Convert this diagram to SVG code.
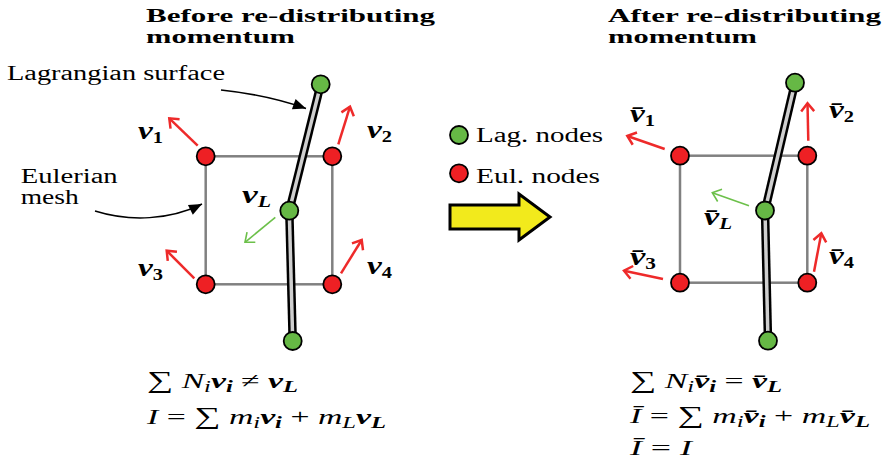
<svg xmlns="http://www.w3.org/2000/svg" width="888" height="469" viewBox="0 0 888 469">
<style>
.t{font-family:"Liberation Serif","DejaVu Serif",serif;fill:#000}
.title{font-weight:bold;font-size:19px}
.lbl{font-size:20px}
.vec{font-weight:bold;font-style:italic;font-size:26px}
.vs{font-size:16px}
.m{font-size:22px;font-style:italic}
.up{font-style:normal}
.sum{font-style:normal;font-size:24px}
.bold{font-weight:bold}
.sq{stroke:#808080;stroke-width:2.5;fill:none}
.lagO{stroke:#000;stroke-width:8.5;fill:none;stroke-linecap:butt}
.lagI{stroke:#cfcfcf;stroke-width:3.5;fill:none}
.red{stroke:#ee2a2a;stroke-width:2.5;fill:none;marker-end:url(#ahR)}
.grn{stroke:#6cc04a;stroke-width:1.6;fill:none;marker-end:url(#ahG)}
.lead{stroke:#000;stroke-width:1.5;fill:none;marker-end:url(#ahK)}
.en{fill:#ee2024;stroke:#000;stroke-width:1.8}
.ln{fill:#66b845;stroke:#000;stroke-width:1.8}
</style>
<defs>
<marker id="ahR" markerUnits="userSpaceOnUse" orient="auto" viewBox="-12 -10 14 20" refX="0" refY="0" markerWidth="14" markerHeight="20" overflow="visible">
<path d="M-8,-6.5 L0,0 L-8,6.5" fill="none" stroke="#ee2a2a" stroke-width="2.5" stroke-linejoin="miter"/>
</marker>
<marker id="ahG" markerUnits="userSpaceOnUse" orient="auto" viewBox="-12 -10 14 20" refX="0" refY="0" markerWidth="14" markerHeight="20" overflow="visible">
<path d="M-8,-6.5 L0,0 L-8,6.5" fill="none" stroke="#6cc04a" stroke-width="1.6"/>
</marker>
<marker id="ahK" markerUnits="userSpaceOnUse" orient="auto" viewBox="-14 -8 16 16" refX="0" refY="0" markerWidth="16" markerHeight="16" overflow="visible">
<path d="M-13,-5.5 L0,0 L-13,5.5 Z" fill="#000"/>
</marker>
</defs>

<!-- titles -->
<g id="title-before" class="t title">
<text x="146" y="21.5" textLength="289" lengthAdjust="spacingAndGlyphs">Before re-distributing</text>
<text x="146" y="43" textLength="149" lengthAdjust="spacingAndGlyphs">momentum</text>
</g>
<g id="title-after" class="t title">
<text x="608" y="21.5" textLength="273" lengthAdjust="spacingAndGlyphs">After re-distributing</text>
<text x="608" y="43" textLength="149" lengthAdjust="spacingAndGlyphs">momentum</text>
</g>

<!-- connectors -->
<g id="connectors">
<rect class="sq" x="205.7" y="156.3" width="126.6" height="128"/>
<rect class="sq" x="680" y="155.7" width="127.3" height="127"/>
<polyline class="lagO" points="320.7,84.3 289.3,210.7"/>
<polyline class="lagO" points="289.3,210.7 292.7,341"/>
<polyline class="lagI" points="320.7,84.3 289.3,210.7"/>
<polyline class="lagI" points="289.3,210.7 292.7,341"/>
<polyline class="lagO" points="795,82.7 765,210.5"/>
<polyline class="lagO" points="765,210.5 768,340.7"/>
<polyline class="lagI" points="795,82.7 765,210.5"/>
<polyline class="lagI" points="765,210.5 768,340.7"/>
<line class="red" x1="197.7" y1="145.7" x2="169.3" y2="118.3"/>
<line class="red" x1="338.3" y1="144.3" x2="350" y2="106.7"/>
<line class="red" x1="194.3" y1="278.3" x2="166.7" y2="250.7"/>
<line class="red" x1="341" y1="273.3" x2="361.7" y2="240"/>
<line class="grn" x1="275.3" y1="217.3" x2="245" y2="242.3"/>
<line class="red" x1="664.7" y1="149" x2="627.3" y2="136"/>
<line class="red" x1="808.3" y1="140.7" x2="807.5" y2="103.3"/>
<line class="red" x1="663" y1="279" x2="624" y2="270.7"/>
<line class="red" x1="814" y1="271.7" x2="821.3" y2="233.3"/>
<line class="grn" x1="749" y1="205.7" x2="712.3" y2="192.7"/>
<path class="lead" d="M221,90 Q268,95 306,108.5"/>
<path class="lead" d="M95,211 C130,222 170,220 202,204"/>
<polygon points="450,205 519,205 519,194 550,217 519,240 519,229 450,229" fill="#f2ea1c" stroke="#000" stroke-width="3" stroke-linejoin="miter"/>
</g>

<!-- nodes: left -->
<g id="L-eul-1"><circle class="en" cx="205.7" cy="156.3" r="9"/></g>
<g id="L-eul-2"><circle class="en" cx="332.3" cy="156.3" r="9"/></g>
<g id="L-eul-3"><circle class="en" cx="205.7" cy="284.3" r="9"/></g>
<g id="L-eul-4"><circle class="en" cx="332.3" cy="284.3" r="9"/></g>
<g id="L-lag-top"><circle class="ln" cx="320.7" cy="84.3" r="9"/></g>
<g id="L-lag-mid"><circle class="ln" cx="289.3" cy="210.7" r="9"/></g>
<g id="L-lag-bot"><circle class="ln" cx="292.7" cy="341" r="9"/></g>
<!-- nodes: right -->
<g id="R-eul-1"><circle class="en" cx="680" cy="155.7" r="9"/></g>
<g id="R-eul-2"><circle class="en" cx="807.3" cy="155.7" r="9"/></g>
<g id="R-eul-3"><circle class="en" cx="680" cy="282.7" r="9"/></g>
<g id="R-eul-4"><circle class="en" cx="807.3" cy="282.7" r="9"/></g>
<g id="R-lag-top"><circle class="ln" cx="795" cy="82.7" r="9"/></g>
<g id="R-lag-mid"><circle class="ln" cx="765" cy="210.5" r="9"/></g>
<g id="R-lag-bot"><circle class="ln" cx="768" cy="340.7" r="9"/></g>

<!-- legend -->
<g id="legend-lag"><circle class="ln" cx="459" cy="135" r="9"/><text class="t lbl" x="476" y="142.3" textLength="127" lengthAdjust="spacingAndGlyphs">Lag. nodes</text></g>
<g id="legend-eul"><circle class="en" cx="459" cy="173.3" r="9"/><text class="t lbl" x="476" y="182.7" textLength="124" lengthAdjust="spacingAndGlyphs">Eul. nodes</text></g>

<!-- annotations -->
<g id="label-lagrangian"><text class="t lbl" x="7" y="80" textLength="218" lengthAdjust="spacingAndGlyphs">Lagrangian surface</text></g>
<g id="label-eulerian" class="t lbl">
<text x="20.7" y="182.7" textLength="97" lengthAdjust="spacingAndGlyphs">Eulerian</text>
<text x="20.7" y="204" textLength="58" lengthAdjust="spacingAndGlyphs">mesh</text>
</g>

<!-- velocity labels left -->
<g id="lbl-v1"><text class="t vec" x="138" y="139" textLength="25" lengthAdjust="spacingAndGlyphs">v<tspan class="vs up" dy="4">1</tspan></text></g>
<g id="lbl-v2"><text class="t vec" x="367" y="137.5" textLength="25" lengthAdjust="spacingAndGlyphs">v<tspan class="vs up" dy="4">2</tspan></text></g>
<g id="lbl-vL"><text class="t vec" x="242" y="203" textLength="29" lengthAdjust="spacingAndGlyphs">v<tspan class="vs" dy="4">L</tspan></text></g>
<g id="lbl-v3"><text class="t vec" x="138" y="276" textLength="25" lengthAdjust="spacingAndGlyphs">v<tspan class="vs up" dy="4">3</tspan></text></g>
<g id="lbl-v4"><text class="t vec" x="367" y="274" textLength="25" lengthAdjust="spacingAndGlyphs">v<tspan class="vs up" dy="4">4</tspan></text></g>
<!-- velocity labels right -->
<g id="lbl-vb1"><text class="t vec" x="630" y="122" textLength="25" lengthAdjust="spacingAndGlyphs">v̄<tspan class="vs up" dy="4">1</tspan></text></g>
<g id="lbl-vb2"><text class="t vec" x="829" y="118" textLength="25" lengthAdjust="spacingAndGlyphs">v̄<tspan class="vs up" dy="4">2</tspan></text></g>
<g id="lbl-vbL"><text class="t vec" x="704" y="225" textLength="28" lengthAdjust="spacingAndGlyphs">v̄<tspan class="vs" dy="4">L</tspan></text></g>
<g id="lbl-vb3"><text class="t vec" x="630" y="265" textLength="26" lengthAdjust="spacingAndGlyphs">v̄<tspan class="vs up" dy="4">3</tspan></text></g>
<g id="lbl-vb4"><text class="t vec" x="829" y="264" textLength="25" lengthAdjust="spacingAndGlyphs">v̄<tspan class="vs up" dy="4">4</tspan></text></g>

<!-- equations left -->
<g id="eq-before" class="t m">
<text x="147" y="388" textLength="151" lengthAdjust="spacingAndGlyphs"><tspan class="sum">∑</tspan> N<tspan class="vs" dy="4">i</tspan><tspan class="bold" dy="-4">v</tspan><tspan class="vs bold" dy="4">i</tspan><tspan class="up" dy="-4"> ≠ </tspan><tspan class="bold">v</tspan><tspan class="vs bold" dy="4">L</tspan></text>
<text x="147" y="424" textLength="239" lengthAdjust="spacingAndGlyphs">I<tspan class="up"> = </tspan><tspan class="sum">∑</tspan> m<tspan class="vs" dy="4">i</tspan><tspan class="bold" dy="-4">v</tspan><tspan class="vs bold" dy="4">i</tspan><tspan class="up" dy="-4"> + </tspan>m<tspan class="vs" dy="4">L</tspan><tspan class="bold" dy="-4">v</tspan><tspan class="vs bold" dy="4">L</tspan></text>
</g>
<!-- equations right -->
<g id="eq-after" class="t m">
<text x="630" y="388" textLength="152" lengthAdjust="spacingAndGlyphs"><tspan class="sum">∑</tspan> N<tspan class="vs" dy="4">i</tspan><tspan class="bold" dy="-4">v̄</tspan><tspan class="vs bold" dy="4">i</tspan><tspan class="up" dy="-4"> = </tspan><tspan class="bold">v̄</tspan><tspan class="vs bold" dy="4">L</tspan></text>
<text x="630" y="423" textLength="240" lengthAdjust="spacingAndGlyphs">Ī<tspan class="up"> = </tspan><tspan class="sum">∑</tspan> m<tspan class="vs" dy="4">i</tspan><tspan class="bold" dy="-4">v̄</tspan><tspan class="vs bold" dy="4">i</tspan><tspan class="up" dy="-4"> + </tspan>m<tspan class="vs" dy="4">L</tspan><tspan class="bold" dy="-4">v̄</tspan><tspan class="vs bold" dy="4">L</tspan></text>
<text x="630" y="455" textLength="62" lengthAdjust="spacingAndGlyphs">Ī<tspan class="up"> = </tspan>I</text>
</g>
</svg>
